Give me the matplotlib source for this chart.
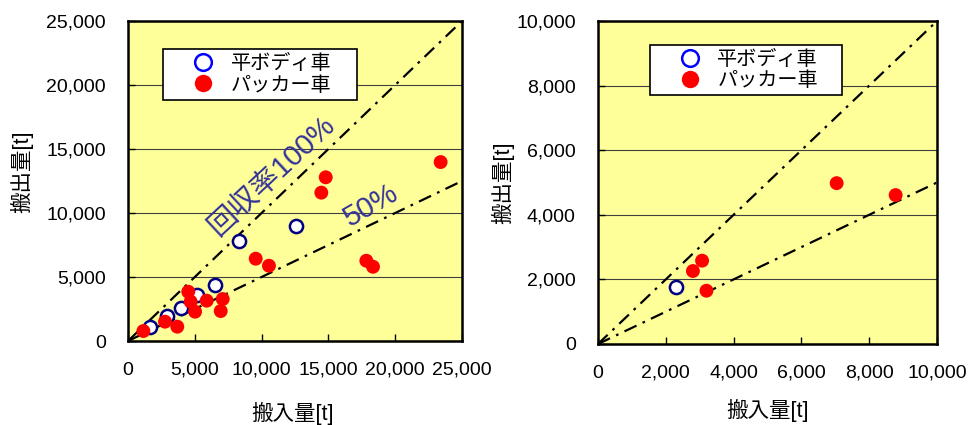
import matplotlib
matplotlib.use("Agg")
import matplotlib.pyplot as plt
from matplotlib.lines import Line2D

# ---- data ----
left_flat_x = [1650, 2940, 3940, 5140, 6510, 8330, 12550]
left_flat_y = [1120, 1950, 2600, 3590, 4380, 7840, 8980]
left_pack_x = [1150, 2770, 3690, 4510, 4690, 5020, 5890, 7090, 6940, 9560, 10550, 17840, 18340, 14470, 14800, 23400]
left_pack_y = [780, 1510, 1120, 3850, 3070, 2290, 3150, 3280, 2340, 6430, 5880, 6270, 5800, 11590, 12790, 13980]

right_flat_x = [2300]
right_flat_y = [1770]
right_pack_x = [3070, 2800, 3200, 7040, 8780]
right_pack_y = [2580, 2260, 1650, 4980, 4610]

left_ticks = [0, 5000, 10000, 15000, 20000, 25000]
right_ticks = [0, 2000, 4000, 6000, 8000, 10000]
legend_labels = ["平ボディ車", "パッカー車"]
ylabel = "搬出量[t]"
xlabel = "搬入量[t]"

FAM = ["Liberation Sans", "Noto Sans CJK JP"]
NARROW = ["Liberation Sans Narrow", "Liberation Sans"]
plt.rcParams["font.family"] = FAM

W, H = 970, 425
fig = plt.figure(figsize=(W / 100, H / 100), dpi=100)

def px_axes(x0, y0, x1, y1):
    return fig.add_axes([x0 / W, 1 - y1 / H, (x1 - x0) / W, (y1 - y0) / H])

axL = px_axes(128, 21, 462, 341)
axR = px_axes(598, 21, 937, 344)

dash = (0, (6, 3, 1.2, 3))

def style(ax, ticks, fx, fy, px_, py_, legbox):
    lim = ticks[-1]
    ax.set_facecolor("#FFFF99")
    ax.set_xlim(0, lim)
    ax.set_ylim(0, lim)
    ax.set_xticks(ticks)
    ax.set_yticks(ticks)
    ax.set_xticklabels([f"{t:,}" for t in ticks], family=NARROW, fontsize=14)
    ax.set_yticklabels([f"{t:,}" for t in ticks], fontsize=14)
    ax.tick_params(direction="in", length=5, width=1, pad=16)
    ax.tick_params(axis="x", pad=15)
    ax.grid(axis="y", color="#404040", lw=0.8)
    ax.set_axisbelow(True)
    for s in ax.spines.values():
        s.set_linewidth(1.8)
        s.set_color("black")
    ax.plot([0, lim], [0, lim], color="black", lw=1.6, linestyle=dash, zorder=2)
    ax.plot([0, lim], [0, lim / 2], color="black", lw=1.6, linestyle=dash, zorder=2)
    ax.scatter(fx, fy, s=90, facecolor="white", edgecolor="#000080", linewidth=1.8, zorder=3)
    ax.scatter(px_, py_, s=100, facecolor="#FF0000", edgecolor="none", zorder=4)
    handles = [
        Line2D([], [], ls="none", marker="o", ms=12, mfc="white", mec="#0000FF", mew=1.8),
        Line2D([], [], ls="none", marker="o", ms=12.5, mfc="#FF0000", mec="#FF0000", mew=0),
    ]
    leg = ax.legend(handles, legend_labels, loc="upper left", bbox_to_anchor=legbox,
                    mode="expand", fontsize=14.5, frameon=True, fancybox=False,
                    edgecolor="black", framealpha=1, borderpad=0.25, borderaxespad=0,
                    handlelength=3.5, handletextpad=-0.4, labelspacing=0.12)
    leg.get_frame().set_linewidth(1.2)
    leg.set_zorder(5)

style(axL, left_ticks, left_flat_x, left_flat_y, left_pack_x, left_pack_y,
      (0.105, 0.731, 0.581, 0.1815))
style(axR, right_ticks, right_flat_x, right_flat_y, right_pack_x, right_pack_y,
      (0.153, 0.731, 0.567, 0.195))

txtc = "#333399"
axL.text(10750, 12900, "回収率100%", color=txtc, fontsize=21, rotation=43,
         ha="center", va="center", rotation_mode="anchor", zorder=4)
axL.text(18170, 10570, "50%", color=txtc, fontsize=21, rotation=30,
         ha="center", va="center", rotation_mode="anchor", zorder=4)

fig.text(22 / W, 1 - 172 / H, ylabel, rotation=90, ha="center", va="center", fontsize=15.5)
fig.text(503 / W, 1 - 183 / H, ylabel, rotation=90, ha="center", va="center", fontsize=15.5)
fig.text(293 / W, 1 - 413 / H, xlabel, ha="center", va="center", fontsize=15.5)
fig.text(768 / W, 1 - 410 / H, xlabel, ha="center", va="center", fontsize=15.5)

fig.savefig("out.png", dpi=100)
